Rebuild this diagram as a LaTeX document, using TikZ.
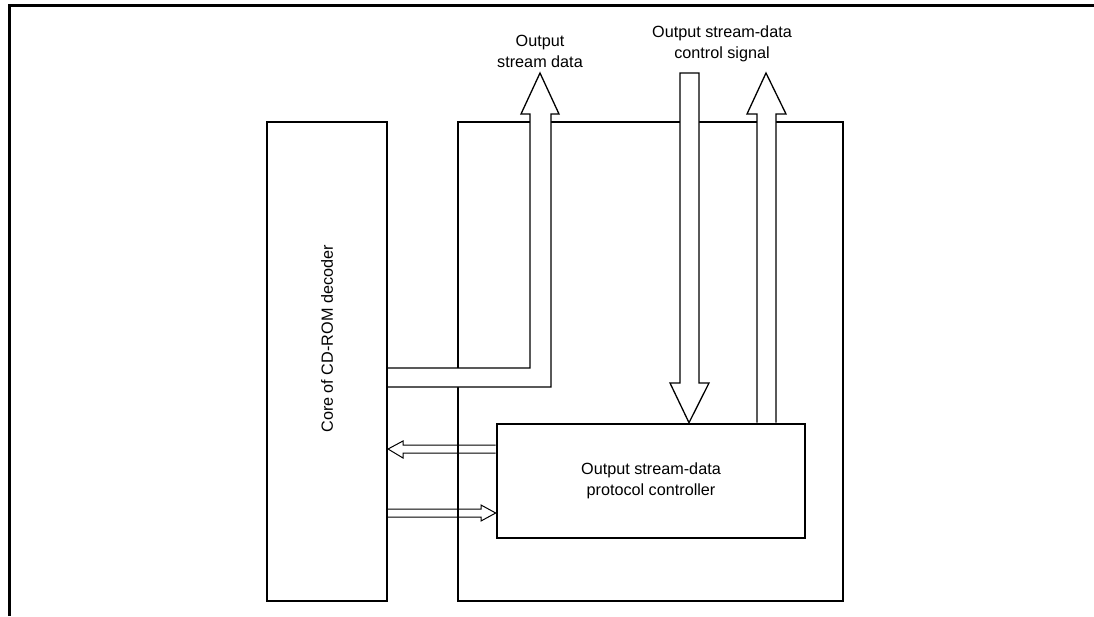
\documentclass[tikz,border=0pt]{standalone}
\usepackage{fontspec}
\setmainfont{Liberation Sans}
\usetikzlibrary{positioning, calc}
\pgfdeclarelayer{back}
\pgfdeclarelayer{mid}
\pgfsetlayers{back,mid,main}

\begin{document}
\begin{tikzpicture}[x=1pt, y=-1pt, font=\fontsize{16.2}{21}\selectfont,
    block/.style={draw, line width=2pt, inner sep=0pt},
    fatarrow/.style={draw, fill=white, line width=1.3pt, line join=miter},
    slimarrow/.style={draw, line width=1pt, line join=miter}]
  \useasboundingbox (0,0) rectangle (1094,616);
  \draw[line width=3pt] (9,616) -- (9,5) -- (1094,5);

  % blocks
  \node[block, minimum width=120pt, minimum height=479pt] (core) at (327,361.5) {};
  \node[rotate=90] (core-text) at (327,339) {Core of CD-ROM decoder};
  \begin{pgfonlayer}{back}
    \node[block, minimum width=385pt, minimum height=479pt] (chip) at (650.5,361.5) {};
  \end{pgfonlayer}
  \node[block, line width=2.6pt, minimum width=308pt, minimum height=114pt, align=center] (ctrl) at (651,481) {Output stream-data\\protocol controller};

  % labels
  \node[align=center] (data-text) at (540,51) {Output\\stream data};
  \node[align=center] (sig-text) at (722,44) {Output stream-data\\control signal};

  % wide arrows
  \begin{pgfonlayer}{mid}
    \draw[fatarrow] (core.east |- 0,368) -- (530,368) -- (530,114) -- (521,114) -- (540,73)
      -- (559,114) -- (551,114) -- (551,387) -- (core.east |- 0,387);
    \draw[fatarrow] (680,73) -- (699,73) -- (699,383) -- (709,383) -- (689,0 |- ctrl.north)
      -- (670,383) -- (680,383) -- cycle;
    \draw[fatarrow] (757,0 |- ctrl.north) -- (757,114) -- (747,114) -- (766,73)
      -- (786,114) -- (776,114) -- (776,0 |- ctrl.north);
  \end{pgfonlayer}

  % narrow arrows
  \draw[slimarrow] (ctrl.west |- 0,445) -- (403,445) -- (403,441) -- (core.east |- 0,449)
    -- (403,458) -- (403,453) -- (ctrl.west |- 0,453);
  \draw[slimarrow] (core.east |- 0,509) -- (481,509) -- (481,505) -- (ctrl.west |- 0,513)
    -- (481,521) -- (481,517) -- (core.east |- 0,517);
\end{tikzpicture}
\end{document}
